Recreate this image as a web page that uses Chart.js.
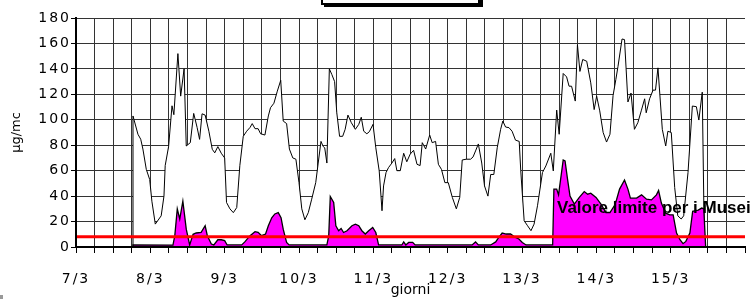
<!DOCTYPE html>
<html>
<head>
<meta charset="utf-8">
<script src="https://cdn.jsdelivr.net/npm/chart.js@4.4.1/dist/chart.umd.min.js"></script>
<style>
  html, body { margin: 0; padding: 0; background: #fff; }
  #wrap { position: relative; width: 750px; height: 299px; }
</style>
</head>
<body>
<div id="wrap"><canvas id="chart" width="750" height="299"></canvas></div>
<script>
// hours counted from 7/3 00:00
const outerHours = [18.4, 18.4, 20.0, 20.9, 21.6, 22.7, 23.8, 24.5, 25.6, 27.5,
    28.4, 28.8, 29.9, 31.0, 31.6, 32.9, 33.8, 34.9, 35.6, 36.9,
    38.0, 39.1, 39.9, 40.7, 41.7, 42.9, 44.0, 44.8, 45.8, 46.9,
    48.0, 48.6, 49.7, 50.8, 51.9, 52.9, 54.0, 55.1, 56.2, 56.9,
    57.8, 58.8, 59.6, 61.0, 62.1, 62.8, 63.9, 65.0, 66.1, 66.9,
    68.0, 68.9, 70.0, 71.0, 72.0, 72.9, 73.9, 75.0, 76.1, 77.4,
    78.2, 79.1, 79.8, 80.3, 81.0, 81.8, 82.6, 83.5, 84.2, 85.1,
    86.1, 86.9, 87.8, 88.9, 90.2, 91.3, 92.1, 92.9, 93.9, 94.7,
    95.9, 96.8, 97.9, 98.8, 99.3, 100.1, 100.9, 102.0, 102.9, 103.6,
    104.7, 105.8, 106.8, 107.9, 109.0, 110.1, 111.1, 111.8, 112.9, 114.2,
    115.0, 116.1, 117.0, 118.0, 119.1, 120.2, 121.5, 122.8, 123.9, 124.7,
    126.0, 127.4, 128.2, 129.0, 129.9, 131.0, 131.9, 133.0, 133.9, 134.9,
    136.0, 137.1, 137.8, 138.7, 139.8, 140.8, 141.9, 143.1, 143.6, 144.7,
    145.8, 146.9, 147.9, 149.0, 150.6, 151.7, 153.3, 154.1, 155.2, 156.0,
    157.3, 158.4, 159.2, 160.0, 161.2, 161.9, 162.7, 163.6, 164.9, 166.2,
    167.3, 168.1, 169.1, 170.2, 171.3, 172.4, 173.4, 174.3, 175.0, 176.3,
    177.1, 178.2, 179.2, 180.3, 181.4, 182.5, 183.6, 184.1, 185.2, 186.3,
    187.1, 187.9, 189.3, 190.4, 191.1, 192.2, 193.3, 194.3, 195.4, 196.2,
    197.6, 199.0, 200.3, 201.1, 202.2, 202.9];
const outerValues = [0, 103, 88.6, 84.7, 77, 61, 53, 36, 18, 24.5,
    40, 64, 79, 111, 104, 152, 118.6, 140, 79.4, 82,
    105, 94, 84.6, 104.7, 103.7, 91, 76.8, 74, 78.9, 73.7,
    70, 35, 30, 27, 31, 64, 87, 91, 94, 97,
    93, 93, 89, 88, 103, 109.5, 113, 122.5, 131, 99,
    97, 77, 70, 69, 50.6, 30, 21.4, 27, 37.6, 50.6,
    66, 83, 79, 78, 66, 140, 135.6, 130, 105.5, 87,
    87, 92.5, 103.7, 97.7, 92.5, 96.4, 102, 91, 89, 90.6,
    96.4, 78, 59.8, 28.5, 48, 58.5, 62.4, 66, 69.5, 60,
    60, 73.7, 67, 73, 76, 65, 64, 82, 77, 88,
    82, 83, 65, 61, 50.6, 50.6, 39, 30, 39, 68.4,
    69, 69, 70.8, 75.5, 81, 66, 48, 40, 57, 57,
    78, 92.5, 99, 94.3, 93.8, 91, 84, 83, 60, 20.6,
    16.7, 12.8, 18, 32.4, 58.5, 63.7, 73.7, 59.8, 107.6, 88.6,
    136.4, 133.7, 126.4, 126.4, 114.7, 159, 138, 147.4, 146, 129,
    108, 118.6, 107, 90, 82.5, 88.6, 119, 131.7, 142, 163.5,
    163, 114, 121, 92.5, 97.7, 107, 116.5, 105.5, 116.5, 123.3,
    123.3, 140.8, 92.5, 79.4, 91, 90, 46.7, 24.5, 22, 24.5,
    58.5, 110.8, 110.3, 99.8, 121.7, 0];

const innerHours = [18.4, 18.4, 31.3, 31.9, 32.7, 33.5, 34.5, 35.6, 36.7, 37.8,
    38.8, 40.4, 41.7, 42.4, 43.7, 44.5, 45.8, 46.9, 48.0, 48.8,
    53.5, 54.5, 56.2, 57.8, 58.8, 59.9, 61.2, 62.1, 63.2, 64.2,
    65.3, 66.2, 66.9, 68.0, 68.8, 81.0, 81.6, 82.1, 83.2, 83.9,
    84.8, 85.6, 86.4, 87.5, 89.1, 90.2, 91.3, 92.3, 93.4, 94.5,
    95.8, 96.8, 97.7, 105.2, 105.8, 106.5, 107.4, 108.7, 109.5, 127.9,
    129.0, 129.9, 133.9, 135.5, 136.5, 137.6, 138.9, 140.3, 141.9, 143.0,
    144.1, 145.3, 153.9, 154.3, 155.2, 155.8, 157.3, 157.9, 158.7, 159.5,
    160.9, 162.5, 164.1, 165.2, 166.2, 167.9, 169.5, 171.1, 172.4, 173.8,
    174.5, 175.5, 177.1, 178.2, 179.0, 181.0, 182.6, 184.2, 185.8, 187.4,
    188.1, 189.0, 190.4, 191.7, 192.8, 193.9, 195.0, 196.0, 196.9, 198.2,
    199.1, 200.9, 202.0, 202.7, 203.3];
const innerValues = [0, 1.6, 1.5, 8.9, 30, 22, 36, 14, 1.6, 10,
    11, 11.5, 16.7, 8.9, 2.3, 1.6, 5.7, 5.7, 5, 1.6,
    1.6, 4, 8.9, 12, 11.5, 8.9, 10.2, 16.7, 23, 26,
    27, 23, 14, 3.6, 1.6, 1.6, 9, 39.7, 35, 16.7,
    12.8, 14.6, 11.4, 12.8, 16.7, 18, 16.7, 12.8, 10.2, 12.8,
    15.4, 11.4, 1.6, 1.6, 4, 1.6, 3.6, 3.6, 1.6, 1.6,
    4, 1.6, 1.6, 4, 7.5, 11, 10.2, 10.2, 7.5, 6.3,
    3.6, 1.6, 1.6, 45.5, 45.5, 41, 68.4, 67.6, 53.3, 40,
    33.7, 39, 43.6, 41.5, 42.3, 39, 33.7, 27.1, 27.1, 32.4,
    37, 45.5, 52.7, 45.5, 38.4, 38.4, 41, 37.6, 37, 41,
    44.4, 34.5, 26.6, 25.3, 25.3, 11, 5.7, 2.6, 4.4, 11,
    28, 29, 30.6, 30, 0];

const limitValue = 8;
const limitLabel = 'Valore limite per i Musei';
const firstDay = 7;          // 7/3
const lastHour = 216;        // 16/3 00:00

const tickFont = { family: '"DejaVu Sans", Verdana, sans-serif', size: 14 };

function toPoints(xs, ys) {
    return xs.map((x, i) => ({ x: x, y: ys[i] }));
}

// title box cut by the top edge + the label of the limit line
const overlayPlugin = {
    id: 'overlay',
    afterDatasetsDraw(chart) {
        const ctx = chart.ctx;
        const xs = chart.scales.x;
        const ys = chart.scales.y;
        ctx.save();
        ctx.fillStyle = '#000';
        ctx.fillRect(324, -20, 159, 27);
        ctx.fillStyle = '#fff';
        ctx.fillRect(321, -20, 159, 25);
        ctx.strokeStyle = '#000';
        ctx.lineWidth = 2;
        ctx.strokeRect(322, -20, 157, 24);

        ctx.font = 'bold 17px "Liberation Sans", Arial, sans-serif';
        ctx.fillStyle = '#000';
        ctx.textBaseline = 'alphabetic';
        ctx.fillText(limitLabel, xs.getPixelForValue(155.3), ys.getPixelForValue(27));

        ctx.fillStyle = '#999';
        ctx.fillRect(0, 295, 3, 4);
        ctx.restore();
        // tick labels (z 0.5) come next: the original digits are wide
        ctx.letterSpacing = '2px';
    },
    afterDraw(chart) {
        chart.ctx.letterSpacing = '0px';
    }
};

new Chart(document.getElementById('chart'), {
    type: 'line',
    data: {
        datasets: [
            {
                label: limitLabel,
                data: [{ x: 0, y: limitValue }, { x: lastHour, y: limitValue }],
                borderColor: '#ff0000',
                borderWidth: 3,
                pointRadius: 0,
                fill: false,
                order: 0
            },
            {
                label: 'interno',
                data: toPoints(innerHours, innerValues),
                borderColor: '#000',
                borderWidth: 1.3,
                backgroundColor: '#ff00ff',
                pointRadius: 0,
                tension: 0,
                fill: 'origin',
                order: 1
            },
            {
                label: 'esterno',
                data: toPoints(outerHours, outerValues),
                borderColor: '#000',
                borderWidth: 1,
                backgroundColor: '#ffffff',
                pointRadius: 0,
                tension: 0,
                fill: 'origin',
                order: 2
            }
        ]
    },
    options: {
        responsive: false,
        animation: false,
        layout: { padding: { top: 18, right: 5, left: 0, bottom: 0 } },
        plugins: {
            legend: { display: false },
            tooltip: { enabled: false }
        },
        scales: {
            x: {
                type: 'linear',
                min: 0,
                max: lastHour,
                afterFit: function (scale) {
                    scale.height = 52;
                    scale.paddingLeft = 0;
                    scale.paddingRight = 0;
                },
                grid: {
                    color: ctx => ctx.tick && ctx.tick.value === lastHour ? 'rgba(0,0,0,0)' : '#333',
                    tickColor: '#000',
                    tickLength: 6,
                    lineWidth: 1
                },
                border: { color: '#000', width: 2, z: 1 },
                ticks: {
                    stepSize: 6,
                    autoSkip: false,
                    maxRotation: 0,
                    padding: 18,
                    z: 0.5,
                    color: '#000',
                    font: tickFont,
                    callback: function (value) {
                        if (value % 24 !== 0 || value >= lastHour) return '';
                        return (firstDay + value / 24) + '/3';
                    }
                },
                title: {
                    display: true,
                    text: 'giorni',
                    color: '#000',
                    font: tickFont,
                    padding: { top: 0, bottom: 0 }
                }
            },
            y: {
                min: 0,
                max: 180,
                afterFit: function (scale) { scale.width = 76; },
                grid: { color: '#333', tickColor: '#000', tickLength: 5, lineWidth: 1 },
                border: { color: '#000', width: 2, z: 1 },
                ticks: {
                    stepSize: 20,
                    padding: 0,
                    z: 0.5,
                    color: '#000',
                    font: tickFont
                },
                title: {
                    display: true,
                    text: 'µg/mc',
                    color: '#000',
                    font: { family: '"DejaVu Sans", Verdana, sans-serif', size: 13 },
                    padding: { top: 9, bottom: 0 }
                }
            }
        }
    },
    plugins: [overlayPlugin]
});
</script>
</body>
</html>
